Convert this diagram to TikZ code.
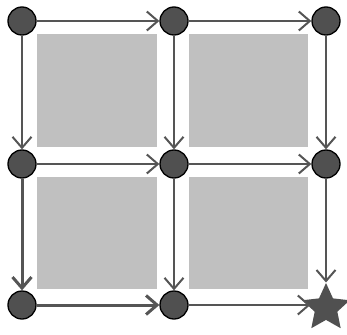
\documentclass[tikz,border=0pt]{standalone}
\usetikzlibrary{arrows.meta,shapes.geometric}
\definecolor{nodefill}{HTML}{505050}
\definecolor{edgecol}{HTML}{555555}
\definecolor{cellgray}{HTML}{C0C0C0}
\tikzset{
  gridnode/.style={circle,draw=black,line width=1.3pt,fill=nodefill,minimum size=28pt,inner sep=0pt},
  goalnode/.style={star,star points=5,star point ratio=2.1,fill=nodefill,draw=none,minimum size=50pt,inner sep=0pt},
  edge/.style={draw=edgecol,line width=2pt,-{Straight Barb[length=11pt,width=19pt]}},
  pathedge/.style={edge,line width=3pt},
  cell/.style={fill=cellgray,draw=none}
}
\begin{document}
\begin{tikzpicture}[x=1pt,y=-1pt]
\useasboundingbox (0,0) rectangle (347,334);
\fill[cell] (37,34) rectangle (157,147);
\fill[cell] (189,34) rectangle (308,147);
\fill[cell] (37,177) rectangle (157,289);
\fill[cell] (189,177) rectangle (308,289);
\node[gridnode] (a) at (22,21) {};
\node[gridnode] (b) at (174,21) {};
\node[gridnode] (c) at (326,21) {};
\node[gridnode] (d) at (22,164) {};
\node[gridnode] (e) at (174,164) {};
\node[gridnode] (f) at (326,164) {};
\node[gridnode] (g) at (22,305) {};
\node[gridnode] (h) at (174,305) {};
\node[goalnode] (i) at (326,308) {};
\draw[edge] (a) -- (b);
\draw[edge] (b) -- (c);
\draw[edge] (a) -- (d);
\draw[edge] (b) -- (e);
\draw[edge] (c) -- (f);
\draw[edge] (d) -- (e);
\draw[edge] (e) -- (f);
\draw[pathedge] (d) -- (g);
\draw[edge] (e) -- (h);
\draw[edge] (f) -- (i);
\draw[pathedge] (g) -- (h);
\draw[edge] (h) -- (i.west |- h);
\end{tikzpicture}
\end{document}
